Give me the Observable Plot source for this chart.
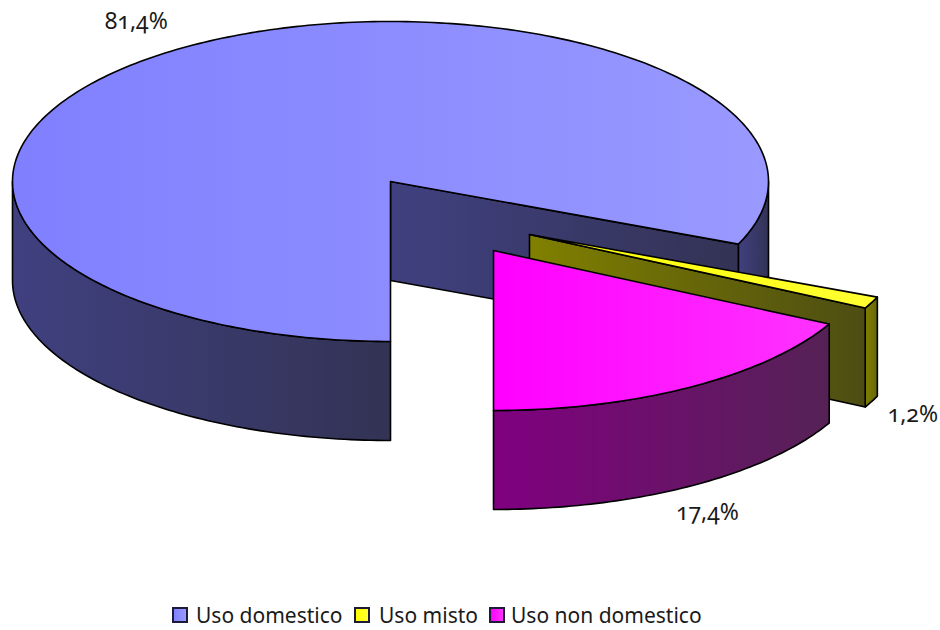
<!DOCTYPE html>
<html><head><meta charset="utf-8">
<script src="https://cdn.jsdelivr.net/npm/d3@7"></script>
<script src="https://cdn.jsdelivr.net/npm/@observablehq/plot@0.6"></script>
<style>
html,body{margin:0;padding:0;background:#fff;overflow:hidden}
#chart svg{display:block}
#chart text{font-feature-settings:"onum" 1;font-variant-numeric:oldstyle-nums}
#legend{height:30px;position:relative;font:21px "Noto Sans",sans-serif;color:#1a1a1a}
#legend span{position:absolute;white-space:nowrap;line-height:22px;top:4px}
#legend i{position:absolute;top:7px;width:12px;height:12px;border:2px solid #1c1c38;display:block}
</style></head><body>
<div id="chart"></div><div id="legend"></div>
<script>
// Data
const categories = ["Uso domestico", "Uso misto", "Uso non domestico"];
const shares = [81.4, 1.2, 17.4];

// Look
const topColors = [["#8080ff", "#9999ff"], ["#ffff00", "#ffff33"], ["#ff00ff", "#ff33ff"]];
const sideColors = [["#404080", "#333355"], ["#808000", "#4d4d13"], ["#800080", "#552255"], ["#808000", "#66660a"]];

// Layout of the 3D projection
const W = 940, H = 600;
const rx = 378, ry = 160, depth = 99;
const center = [390, 181];
const explode = [[0, 0], [139, 53], [103, 69]];
const startAngle = 180;
const labelReach = [1.2, 1.15, 1.15];
const labelDepth = [0, 1, 1];
const labelNudge = [[-4, 0], [-10, 3], [-12, 6]];
const legendSwatchX = [172, 354, 489], legendTextX = [196, 379, 511];

// Geometry derived from shares
let acc = startAngle;
const slices = categories.map((name, i) => {
  const a0 = acc, a1 = acc + shares[i] * 3.6; acc = a1;
  const c = [center[0] + explode[i][0], center[1] + explode[i][1]];
  return {name, i, a0, a1, c};
});
const pt = (s, deg, dz = 0) => {
  const t = deg * Math.PI / 180;
  return {x: s.c[0] + rx * Math.sin(t), y: s.c[1] - ry * Math.cos(t) + dz};
};
const arc = (s, a, b, dz = 0) => {
  const n = Math.max(2, Math.ceil(Math.abs(b - a)));
  return d3.range(n + 1).map(k => pt(s, a + (b - a) * k / n, dz));
};
const wall = (s, a, b) => {
  const p = [...arc(s, a, b), ...arc(s, b, a, depth)];
  return [...p, p[0]];
};
const cutWall = (s, deg) => {
  const o = {x: s.c[0], y: s.c[1]}, p = pt(s, deg);
  return [o, p, {x: p.x, y: p.y + depth}, {x: o.x, y: o.y + depth}, o];
};
const sector = s => {
  const o = {x: s.c[0], y: s.c[1]};
  return [o, ...arc(s, s.a0, s.a1), o];
};
const [blue, yellow, magenta] = slices;

const face = (points, fill) => Plot.line(points, {x: "x", y: "y", fill, stroke: "#000", strokeWidth: 1.6, curve: "linear", strokeLinejoin: "round"});
const defs = () => {
  const svg = d3.create("svg:defs");
  const add = (id, [a, b]) => {
    const g = svg.append("linearGradient").attr("id", id).attr("x1", 0).attr("x2", 1).attr("y1", 0).attr("y2", 0);
    g.append("stop").attr("offset", "0%").attr("stop-color", a);
    g.append("stop").attr("offset", "100%").attr("stop-color", b);
  };
  topColors.forEach((c, i) => add("top" + i, c));
  sideColors.forEach((c, i) => add("side" + i, c));
  return svg.node();
};

const labels = slices.map((s, i) => {
  const m = (s.a0 + s.a1) / 2, t = m * Math.PI / 180, k = labelReach[i];
  return {
    x: s.c[0] + k * rx * Math.sin(t),
    y: s.c[1] - k * ry * Math.cos(t) + labelDepth[i] * depth,
    dx: labelNudge[i][0], dy: labelNudge[i][1],
    text: d3.format(".1f")(shares[i]).replace(".", ",") + "%"
  };
});

const chart = Plot.plot({
  width: W, height: H, margin: 0,
  x: {domain: [0, W], range: [0, W], axis: null},
  y: {domain: [H, 0], range: [H, 0], axis: null},
  marks: [
    defs,
    // blue slice: walls then top
    face(wall(blue, 90, blue.a1 - 360), "url(#side0)"),
    face(cutWall(blue, blue.a1), "url(#side0)"),
    face(wall(blue, 180, 270), "url(#side0)"),
    face(sector(blue), "url(#top0)"),
    // yellow slice
    face(wall(yellow, yellow.a0, yellow.a1), "url(#side3)"),
    face(cutWall(yellow, yellow.a1), "url(#side1)"),
    face(sector(yellow), "url(#top1)"),
    // magenta slice
    face(wall(magenta, magenta.a0, magenta.a1), "url(#side2)"),
    face(sector(magenta), "url(#top2)"),
    ...labels.map(l => Plot.text([l], {
      x: "x", y: "y", text: "text", dx: l.dx, dy: l.dy,
      fontSize: 23, fontFamily: "'Noto Sans', sans-serif", fill: "#1a1a1a"
    }))
  ]
});
document.getElementById("chart").append(chart);

const legend = d3.select("#legend");
categories.forEach((name, i) => {
  legend.append("i").style("left", legendSwatchX[i] + "px")
    .style("background", `linear-gradient(90deg, ${topColors[i][0]}, ${topColors[i][1]})`);
  legend.append("span").style("left", legendTextX[i] + "px").text(name);
});
</script>
</body></html>
